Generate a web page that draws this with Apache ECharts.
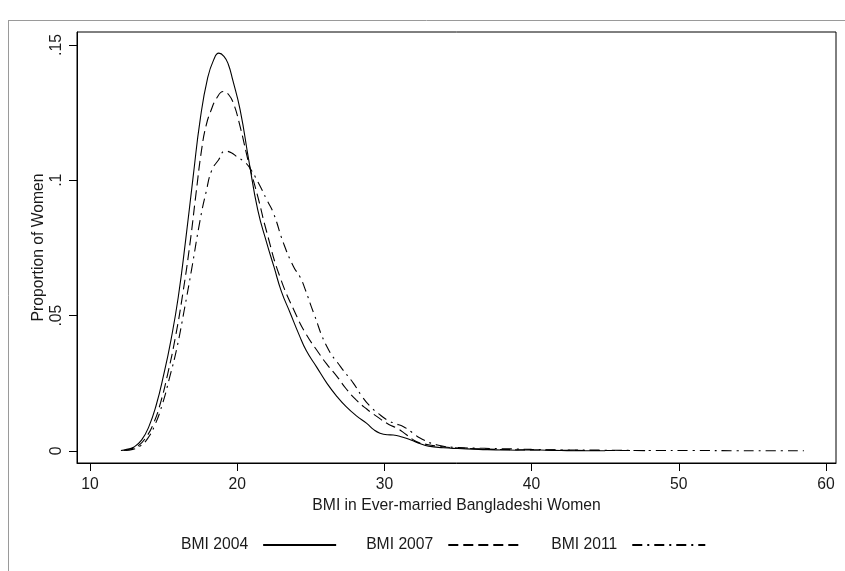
<!DOCTYPE html>
<html>
<head>
<meta charset="utf-8">
<script src="https://cdn.jsdelivr.net/npm/echarts@6/dist/echarts.min.js"></script>
<style>html,body{margin:0;padding:0;background:#fff}#c{width:845px;height:571px}</style>
</head>
<body>
<div id="c"></div>
<script>
var seriesNames = ['BMI 2004', 'BMI 2007', 'BMI 2011'];
var xTicks = [10, 20, 30, 40, 50, 60];
var yTicks = [0, 0.05, 0.1, 0.15];
var yTickLabels = ['0', '.05', '.1', '.15'];

var bmi2004X = [12.1, 12.5, 13, 13.5, 14, 14.5, 15, 15.5, 16, 16.5, 17, 17.5, 18, 18.4, 18.75, 19.1, 19.4, 19.7, 20.2, 20.8, 21.4, 22, 22.5, 23, 23.6, 24.2, 24.7, 25.4, 26.1, 26.8, 27.4, 28.1, 28.8, 29.3, 29.7, 30.2, 30.6, 31.2, 31.8, 32.4, 33, 34, 35, 36, 37, 38, 39, 40, 41, 42, 43, 45];
var bmi2004Y = [0.0002, 0.0006, 0.0015, 0.004, 0.009, 0.017, 0.028, 0.041, 0.057, 0.078, 0.101, 0.123, 0.138, 0.1445, 0.147, 0.1458, 0.1428, 0.137, 0.126, 0.107, 0.089, 0.077, 0.068, 0.059, 0.051, 0.043, 0.037, 0.031, 0.025, 0.020, 0.0164, 0.013, 0.0102, 0.0078, 0.0066, 0.006, 0.0059, 0.0052, 0.0041, 0.0028, 0.0018, 0.0012, 0.0009, 0.0007, 0.0005, 0.0004, 0.0003, 0.0004, 0.0003, 0.0002, 0.0001, 0.0001];

var bmi2007X = [12.3, 12.8, 13.3, 13.8, 14.3, 14.8, 15.3, 15.8, 16.3, 16.8, 17.2, 17.6, 17.9, 18.2, 18.6, 19.07, 19.4, 19.75, 20.2, 20.8, 21.4, 22, 22.9, 24.06, 24.7, 25.4, 26.1, 26.8, 27.4, 28.1, 28.8, 29.5, 30.3, 30.87, 31.5, 32.2, 32.9, 33.6, 34.5, 35.5, 37, 38.5, 40, 42, 44, 46, 48];
var bmi2007Y = [0.0002, 0.0008, 0.002, 0.005, 0.010, 0.018, 0.029, 0.042, 0.058, 0.077, 0.095, 0.112, 0.1205, 0.1255, 0.1303, 0.1328, 0.1318, 0.1284, 0.1198, 0.106, 0.094, 0.081, 0.0644, 0.0496, 0.0430, 0.0373, 0.032, 0.0274, 0.023, 0.0188, 0.0155, 0.0127, 0.0098, 0.0084, 0.006, 0.0034, 0.0024, 0.0018, 0.0013, 0.001, 0.0007, 0.0005, 0.0004, 0.0003, 0.0002, 0.0002, 0.0001];

var bmi2011X = [12.4, 12.9, 13.4, 13.9, 14.4, 14.9, 15.4, 15.9, 16.4, 16.9, 17.48, 17.9, 18.28, 18.73, 19.18, 19.6, 19.98, 20.4, 20.8, 21.4, 22.02, 22.47, 23.15, 23.83, 24.3, 24.6, 25.2, 26.1, 27.03, 27.9, 28.5, 29.05, 29.6, 30.18, 30.7, 31.3, 31.9, 32.45, 33.6, 35, 36.8, 38.5, 40, 42, 45, 48, 51, 54, 56, 58.5];
var bmi2011Y = [0.0002, 0.0006, 0.0018, 0.0045, 0.0095, 0.017, 0.027, 0.038, 0.052, 0.067, 0.0853, 0.096, 0.1038, 0.1075, 0.1108, 0.1102, 0.1087, 0.1072, 0.105, 0.0995, 0.0927, 0.0878, 0.0767, 0.0681, 0.064, 0.060, 0.0509, 0.0385, 0.0311, 0.025, 0.020, 0.0164, 0.0138, 0.0115, 0.0102, 0.009, 0.0068, 0.0047, 0.0022, 0.0013, 0.001, 0.0008, 0.0006, 0.0004, 0.0003, 0.0002, 0.0002, 0.0001, 0.0001, 0.0001];

function zip(xs, ys) { return xs.map(function (x, i) { return [x, ys[i]]; }); }

var FONT = '"Liberation Sans", Arial, sans-serif';
var FS = 15.7;
var TXT = '#1a1a1a';
var dashTypes = ['solid', [10, 5], [10, 5, 2, 5]];
var allData = [zip(bmi2004X, bmi2004Y), zip(bmi2007X, bmi2007Y), zip(bmi2011X, bmi2011Y)];

var chart = echarts.init(document.getElementById('c'), null, { renderer: 'canvas' });
chart.setOption({
  animation: false,
  backgroundColor: '#fff',
  textStyle: { fontFamily: FONT },
  graphic: [
    { type: 'line', shape: { x1: 8, y1: 20.5, x2: 845, y2: 20.5 }, style: { stroke: '#9a9a9a', lineWidth: 1 } },
    { type: 'line', shape: { x1: 8.5, y1: 20.5, x2: 8.5, y2: 571 }, style: { stroke: '#9a9a9a', lineWidth: 1 } }
  ],
  grid: { left: 77, top: 32, right: 9, bottom: 108, show: true, borderColor: '#000', borderWidth: 1, backgroundColor: 'transparent' },
  legend: {
    left: 181, top: 537, padding: 0,
    align: 'right',
    itemWidth: 73, itemHeight: 10, itemGap: 29,
    data: seriesNames,
    itemStyle: { opacity: 0, borderWidth: 0 },
    textStyle: { fontFamily: FONT, fontSize: FS, color: TXT, padding: [0, 10, 0, 0] },
    inactiveColor: '#000'
  },
  xAxis: {
    type: 'value', min: 9.117, max: 60.68,
    name: 'BMI in Ever-married Bangladeshi Women', nameLocation: 'middle', nameGap: 29,
    nameTextStyle: { fontFamily: FONT, fontSize: FS, color: TXT },
    axisLine: { show: true, onZero: false, lineStyle: { color: '#000', width: 1 } },
    axisTick: { show: true, length: 8, customValues: xTicks, lineStyle: { color: '#000' } },
    axisLabel: { customValues: xTicks, margin: 14, fontFamily: FONT, fontSize: FS, color: TXT },
    splitLine: { show: false }
  },
  yAxis: {
    type: 'value', min: -0.00443, max: 0.1548,
    name: 'Proportion of Women', nameLocation: 'middle', nameGap: 30, nameRotate: 90,
    nameMoveOverlap: false,
    nameTextStyle: { fontFamily: FONT, fontSize: FS, color: TXT },
    axisLine: { show: true, onZero: false, lineStyle: { color: '#000', width: 1 } },
    axisTick: { show: true, length: 8, customValues: yTicks, lineStyle: { color: '#000' } },
    axisLabel: {
      customValues: yTicks, rotate: 90, margin: 12, fontFamily: FONT, fontSize: FS, color: TXT,
      formatter: function (v) { var i = yTicks.indexOf(v); return i >= 0 ? yTickLabels[i] : ''; }
    },
    splitLine: { show: false }
  },
  series: seriesNames.map(function (n, i) {
    return {
      name: n, type: 'line', data: allData[i],
      symbol: 'none', smooth: 0.5,
      lineStyle: { color: '#000', width: 1.1, type: dashTypes[i] },
      itemStyle: { color: '#000' },
      clip: true
    };
  })
});
</script>
</body>
</html>
